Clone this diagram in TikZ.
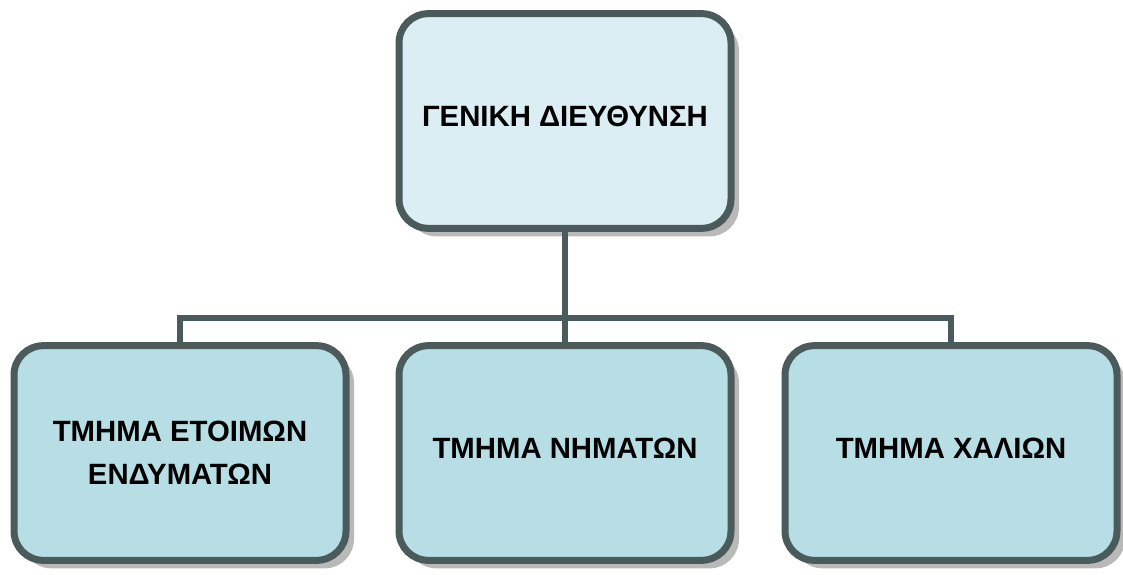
\documentclass[tikz,border=0pt]{standalone}
\usepackage{fontspec}
\setmainfont{Liberation Sans}
\usetikzlibrary{shadows}
\definecolor{borderc}{RGB}{75,90,90}
\definecolor{topfill}{RGB}{218,238,243}
\definecolor{boxfill}{RGB}{183,222,228}
\definecolor{shadowc}{RGB}{185,185,185}
\begin{document}
\begin{tikzpicture}[x=0.75pt,y=-0.75pt,
  orgbox/.style={draw=borderc, line width=5.25pt, rounded corners=22pt,
    minimum width=249pt, minimum height=161pt, inner sep=0pt, align=center,
    font=\fontsize{22}{32}\selectfont\bfseries,
    drop shadow={shadow xshift=6pt, shadow yshift=-6pt, fill=shadowc, opacity=1}},
  link/.style={draw=borderc, line width=4pt}]
\useasboundingbox (0,0) rectangle (1123,574);
\node[orgbox, fill=topfill] (top) at (565,121) {\raisebox{7pt}{ΓΕΝΙΚΗ ΔΙΕΥΘΥΝΣΗ}};
\node[orgbox, fill=boxfill] (left) at (180,453) {ΤΜΗΜΑ ΕΤΟΙΜΩΝ\\ΕΝΔΥΜΑΤΩΝ};
\node[orgbox, fill=boxfill] (mid) at (565,453) {\raisebox{7pt}{ΤΜΗΜΑ ΝΗΜΑΤΩΝ}};
\node[orgbox, fill=boxfill] (right) at (951,453) {\raisebox{7pt}{ΤΜΗΜΑ ΧΑΛΙΩΝ}};
\coordinate (hub) at (565,318);
\draw[link] (top.south) -- (hub);
\draw[link] (mid.north) -- (hub);
\draw[link] (left.north) |- (hub) -| (right.north);
\end{tikzpicture}
\end{document}
